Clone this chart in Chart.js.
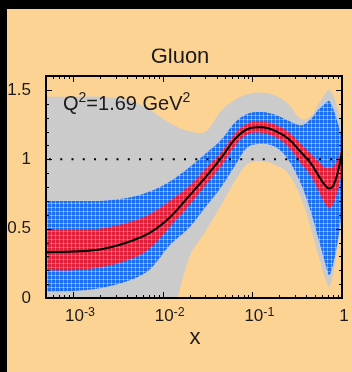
<!DOCTYPE html>
<html>
<head>
<meta charset="utf-8">
<script src="https://cdn.jsdelivr.net/npm/chart.js@4"></script>
<style>
  html, body { margin: 0; padding: 0; background: #fdd394; }
  canvas { display: block; }
</style>
</head>
<body>
<canvas id="gluonChart" width="352" height="372"></canvas>
<script>
// x grid (momentum fraction) and the bands
const xVals = [0.0005, 0.001, 0.002, 0.004, 0.007, 0.012, 0.02, 0.03, 0.045, 0.065, 0.09,
               0.13, 0.18, 0.25, 0.35, 0.45, 0.55, 0.65, 0.72, 0.8, 0.9, 1.0];
const central = [0.33, 0.335, 0.35, 0.40, 0.465, 0.58, 0.74, 0.87, 1.01, 1.15, 1.22,
                 1.23, 1.205, 1.15, 1.05, 0.97, 0.88, 0.81, 0.79, 0.81, 0.91, 1.05];
const redUp = [0.49, 0.49, 0.50, 0.54, 0.60, 0.70, 0.81, 0.93, 1.05, 1.19, 1.26,
               1.27, 1.25, 1.20, 1.11, 1.04, 0.98, 0.94, 0.935, 0.95, 1.00, 1.09];
const redLo = [0.20, 0.20, 0.22, 0.27, 0.35, 0.51, 0.67, 0.81, 0.95, 1.10, 1.18,
               1.19, 1.16, 1.09, 0.97, 0.88, 0.77, 0.68, 0.645, 0.68, 0.78, 0.90];
const blueUp = [0.70, 0.70, 0.70, 0.72, 0.765, 0.84, 0.945, 1.04, 1.14, 1.27, 1.33,
                1.34, 1.32, 1.28, 1.245, 1.29, 1.36, 1.40, 1.42, 1.36, 1.26, 1.16];
const blueLo = [0.045, 0.05, 0.07, 0.12, 0.20, 0.38, 0.51, 0.655, 0.80, 0.96, 1.09,
                1.11, 1.09, 1.00, 0.82, 0.62, 0.42, 0.25, 0.165, 0.25, 0.42, 0.62];
const greyUp = [1.45, 1.45, 1.45, 1.43, 1.36, 1.26, 1.20, 1.20, 1.35, 1.43, 1.47,
                1.48, 1.46, 1.40, 1.29, 1.31, 1.40, 1.47, 1.50, 1.46, 1.36, 1.26];
const greyLo = [-1.5, -1.3, -1.1, -0.9, -0.6, -0.2, 0.30, 0.48, 0.67, 0.85, 0.97,
                0.985, 0.96, 0.90, 0.72, 0.50, 0.30, 0.14, 0.08, 0.18, 0.38, 0.56];
const refLevel = 1;

const xTicks = [0.001, 0.01, 0.1, 1];
const xTickExp = ['-3', '-2', '-1', ''];
const yTicks = [0, 0.5, 1, 1.5];
const xRange = [0.0005, 1];
const yRange = [0, 1.6];

const PEACH = '#fdd394';
const FONT = '"Liberation Sans", Arial, sans-serif';
const ctx = document.getElementById('gluonChart').getContext('2d');

function hatch(fg, line, dot) {
    const c = document.createElement('canvas');
    c.width = 4; c.height = 4;
    const g = c.getContext('2d');
    g.fillStyle = fg;
    g.fillRect(0, 0, 4, 4);
    g.fillStyle = line;
    g.fillRect(3, 0, 1, 4);
    g.fillRect(0, 3, 4, 1);
    g.fillStyle = dot;
    g.fillRect(3, 3, 1, 1);
    return ctx.createPattern(c, 'repeat');
}

const pts = arr => xVals.map((x, i) => ({ x: x, y: arr[i] }));

function band(arr, fillColor, order, fill) {
    return {
        data: pts(arr),
        borderWidth: 0,
        pointRadius: 0,
        backgroundColor: fillColor,
        fill: fill,
        order: order,
        tension: 0.35
    };
}

// frame, inward ticks and free texts
const decor = {
    id: 'decor',
    beforeDraw(chart) {
        const c = chart.ctx;
        c.save();
        c.fillStyle = PEACH;
        c.fillRect(0, 0, chart.width, chart.height);
        c.fillStyle = '#000';
        c.fillRect(0, 0, chart.width, 9);
        c.fillRect(0, 0, 7, chart.height);
        c.restore();
    },
    afterDraw(chart) {
        const c = chart.ctx;
        const a = chart.chartArea;
        const xs = chart.scales.x, ys = chart.scales.y;
        c.save();
        c.strokeStyle = '#000';
        c.lineWidth = 1;
        c.beginPath();
        for (let d = -4; d <= 0; d++) {
            for (let k = 1; k <= 9; k++) {
                const v = k * Math.pow(10, d);
                if (v < xRange[0] || v > xRange[1]) continue;
                const px = Math.round(xs.getPixelForValue(v)) + 0.5;
                const len = k === 1 ? 6 : 3;
                c.moveTo(px, a.bottom); c.lineTo(px, a.bottom - len);
                c.moveTo(px, a.top); c.lineTo(px, a.top + len);
            }
        }
        for (let i = 0; i <= 16; i++) {
            const v = i / 10;
            const py = Math.round(ys.getPixelForValue(v)) + 0.5;
            const len = i % 5 === 0 ? 6 : 3;
            c.moveTo(a.left, py); c.lineTo(a.left + len, py);
            c.moveTo(a.right, py); c.lineTo(a.right - len, py);
        }
        c.stroke();
        c.lineWidth = 2;
        c.strokeRect(a.left, a.top, a.right - a.left, a.bottom - a.top);

        c.fillStyle = '#1a1a1a';
        c.textBaseline = 'alphabetic';

        // x tick labels: decade base with a raised exponent
        xTicks.forEach((v, i) => {
            const px = xs.getPixelForValue(v);
            const baseTxt = v === 1 ? '1' : '10';
            c.font = '17px ' + FONT;
            c.textAlign = 'center';
            const shift = v === 1 ? 2 : 1.5;
            c.fillText(baseTxt, px + shift, a.bottom + 23);
            if (xTickExp[i]) {
                const w = c.measureText(baseTxt).width;
                c.font = '12.5px ' + FONT;
                c.textAlign = 'left';
                c.fillText(xTickExp[i], px + shift + w / 2, a.bottom + 17.5);
            }
        });

        // title, cut at the top like the original
        c.save();
        c.beginPath();
        c.rect(0, 48.5, chart.width, 30);
        c.clip();
        c.font = '22px ' + FONT;
        c.textAlign = 'center';
        c.fillText('Gluon', 180, 63);
        c.restore();

        c.textAlign = 'center';
        c.font = '22px ' + FONT;
        c.fillText('x', 195, 344);

        // Q^2 label
        c.textAlign = 'left';
        let x0 = 63;
        const base = 110;
        c.font = '20px ' + FONT;
        c.fillText('Q', x0, base); x0 += c.measureText('Q').width;
        c.font = '14px ' + FONT;
        c.fillText('2', x0, base - 8); x0 += c.measureText('2').width;
        c.font = '20px ' + FONT;
        c.fillText('=1.69 GeV', x0, base); x0 += c.measureText('=1.69 GeV').width;
        c.font = '14px ' + FONT;
        c.fillText('2', x0, base - 8);
        c.restore();
    }
};

const greyFill = '#cbcbcb';
const blueFill = hatch('#1c6ff2', '#6f9fe6', '#c4d2e6');
const redFill = hatch('#e0203a', '#c0607e', '#b8a8c8');

const gluonChart = new Chart(ctx, {
    type: 'line',
    data: {
        datasets: [
            band(greyUp, greyFill, 6, '+1'),
            band(greyLo, greyFill, 6, false),
            band(blueUp, blueFill, 4, '+1'),
            band(blueLo, blueFill, 4, false),
            band(redUp, redFill, 2, '+1'),
            band(redLo, redFill, 2, false),
            {
                data: xRange.map(x => ({ x: x, y: refLevel })),
                borderColor: '#000',
                borderWidth: 2,
                borderDash: [2, 9.25],
                borderDashOffset: -3,
                pointRadius: 0,
                fill: false,
                order: 1
            },
            {
                data: pts(central),
                borderColor: '#000',
                borderWidth: 2,
                pointRadius: 0,
                fill: false,
                order: 0,
                tension: 0.35
            }
        ]
    },
    options: {
        responsive: false,
        animation: false,
        devicePixelRatio: 1,
        layout: { padding: { left: 0, right: 10, top: 76, bottom: 0 } },
        plugins: {
            legend: { display: false },
            tooltip: { enabled: false },
            title: { display: false }
        },
        scales: {
            x: {
                type: 'logarithmic',
                min: xRange[0],
                max: xRange[1],
                grid: { display: false },
                border: { display: false },
                afterBuildTicks: s => { s.ticks = xTicks.map(v => ({ value: v })); },
                afterFit: s => { s.height = 74; },
                ticks: { display: false }
            },
            y: {
                min: yRange[0],
                max: yRange[1],
                grid: { display: false },
                border: { display: false },
                afterBuildTicks: s => { s.ticks = yTicks.map(v => ({ value: v })); },
                afterFit: s => { s.width = 46; },
                ticks: {
                    padding: 7,
                    color: '#1a1a1a',
                    font: { family: FONT, size: 17 },
                    callback: v => String(v)
                }
            }
        }
    },
    plugins: [decor]
});
</script>
</body>
</html>
